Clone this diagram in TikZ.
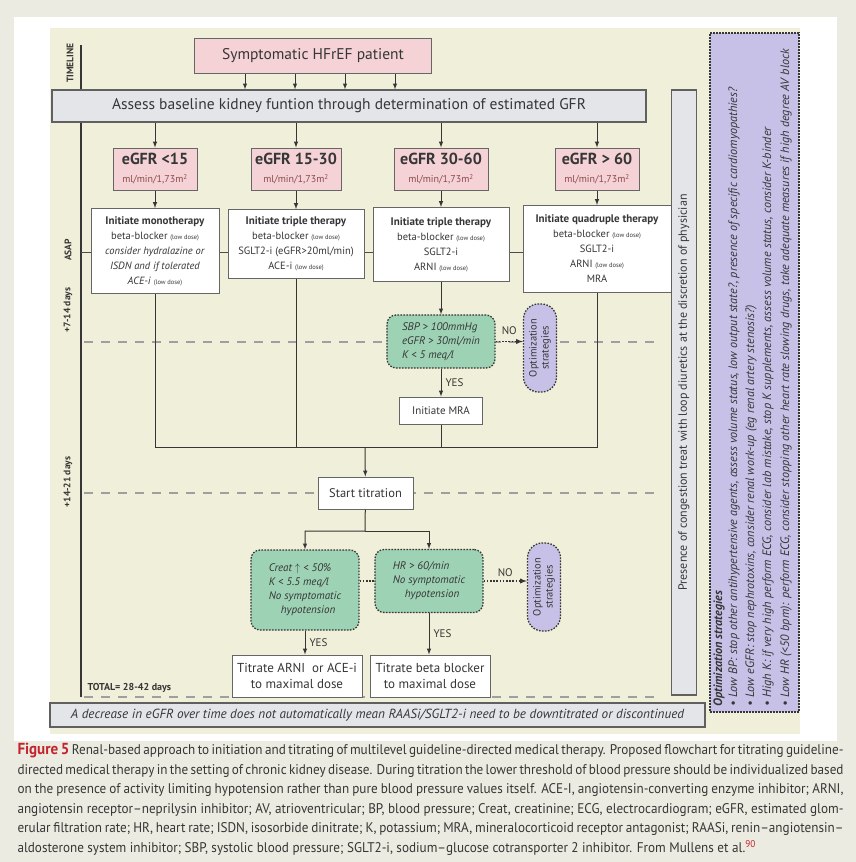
\documentclass[tikz,border=0pt]{standalone}
\usepackage{fontspec}
\setmainfont{PT Sans}
\newfontfamily\capfont[FakeStretch=0.94]{PT Sans}
\usetikzlibrary{arrows,positioning,calc,shapes}
\definecolor{pagebg}{HTML}{ECEBE1}
\definecolor{panel}{HTML}{F0EFD9}
\definecolor{pinkbg}{HTML}{F4D2D5}
\definecolor{greybg}{HTML}{E4E5E9}
\definecolor{greenbg}{HTML}{9ED2B5}
\definecolor{lilac}{HTML}{C8C1E7}
\definecolor{ink}{HTML}{363636}
\definecolor{unitred}{HTML}{8C4B4E}
\definecolor{figred}{HTML}{C3232C}
\newcommand{\lowdose}{{\fontsize{6.5}{7}\selectfont(low dose)}}
\newcommand{\unitline}{{\mdseries\fontsize{10}{11}\selectfont\color{unitred}ml/min/1,73m\textsuperscript{2}}}

\begin{document}
\begin{tikzpicture}[x=1pt, y=-1pt, >=latex, line width=1pt, color=ink,
  every node/.style={align=center, inner sep=1pt},
  pinkbox/.style={draw=gray!80!black, fill=pinkbg, minimum height=42pt, font=\bfseries\fontsize{16}{18}\selectfont},
  greybar/.style={draw=gray!75!black, fill=greybg, line width=1.3pt},
  therapy/.style={draw=gray!80!black, fill=white, anchor=north, font=\fontsize{10.5}{15}\selectfont},
  plainbox/.style={draw=gray!80!black, fill=white},
  cond/.style={draw=ink, dash pattern=on 1.6pt off 1.4pt, line width=1.3pt, fill=greenbg, rounded corners=9pt, align=left, font=\itshape\fontsize{11}{14}\selectfont},
  optpill/.style={draw=ink, dash pattern=on 1.6pt off 1.4pt, line width=1.3pt, fill=lilac, rounded corners=15pt, rotate=90, minimum width=88pt, minimum height=33pt, font=\fontsize{10.5}{12}\selectfont},
  dotlink/.style={dash pattern=on 1.6pt off 1.6pt, line width=1.3pt},
  tlline/.style={draw=gray!75, line width=1.6pt, dash pattern=on 9pt off 8pt},
  tllabel/.style={rotate=90, font=\bfseries\fontsize{9.5}{10}\selectfont},
  optline/.style={rotate=90, anchor=west, inner sep=0pt, font=\itshape\fontsize{12.2}{13}\selectfont},
  answer/.style={font=\fontsize{11}{12}\selectfont}]
  \useasboundingbox (0,0) rectangle (856,862);

  % Page, card and panel
  \fill[pagebg] (0,0) rectangle (856,862);
  \fill[white] (14,17) rectangle (837,741);
  \fill[panel] (50,28) rectangle (800,734);

  % Timeline
  \coordinate (tl0) at (81,45);
  \coordinate (tl1) at (81,697);
  \draw[line width=1.8pt] (tl0) -- (tl1);
  \draw[gray!60!black] (81,252) -- (665,252);
  \foreach \y in {342,493,697}
    \draw[tlline] (84,\y) -- (657,\y);
  \node[tllabel] (tlname) at (70,63) {TIMELINE};
  \node[tllabel] (tlasap) at (68,250) {ASAP};
  \node[tllabel] (tlweek) at (68,310) {+7-14 days};
  \node[tllabel] (tlmonth) at (68,482) {+14-21 days};
  \node[anchor=west, font=\bfseries\fontsize{10}{10}\selectfont] (total) at (86,688) {TOTAL= 28-42 days};

  % Start and kidney function
  \node[pinkbox, minimum width=237pt, minimum height=35pt, font=\fontsize{15.5}{17}\selectfont] (patient) at (313,56) {Symptomatic HFrEF patient};
  \node[greybar, minimum width=594pt, minimum height=32pt, font=\fontsize{15.5}{17}\selectfont] (assess) at (349,106) {Assess baseline kidney funtion through determination of estimated GFR};
  \foreach \i/\x in {1/245,2/295,3/345,4/395}
    \coordinate (drop\i) at (\x,80);
  \foreach \i in {1,...,4}
    \draw[->] (patient.south -| drop\i) -- (assess.north -| drop\i);

  % eGFR classes
  \node[pinkbox, minimum width=84pt] (egfrA) at (155,169) {eGFR <15\\\unitline};
  \node[pinkbox, minimum width=90pt] (egfrB) at (296,169) {eGFR 15-30\\\unitline};
  \node[pinkbox, minimum width=94pt] (egfrC) at (441,169) {eGFR 30-60\\\unitline};
  \node[pinkbox, minimum width=84pt] (egfrD) at (597,169) {eGFR > 60\\\unitline};

  % Initial therapy
  \node[therapy, minimum width=128pt, minimum height=85pt] (mono) at (155,208)
    {\textbf{\fontsize{11}{13}\selectfont Initiate monotherapy}\\beta-blocker \lowdose\\\textit{consider hydralazine or}\\\textit{ISDN and if tolerated}\\\textit{ACE-i} \lowdose};
  \node[therapy, minimum width=136pt, minimum height=69pt] (triA) at (296,209)
    {\textbf{\fontsize{11}{13}\selectfont Initiate triple therapy}\\beta-blocker \lowdose\\SGLT2-i (eGFR>20ml/min)\\ACE-i \lowdose};
  \node[therapy, minimum width=136pt, minimum height=74pt] (triB) at (441,207)
    {\textbf{\fontsize{11}{13}\selectfont Initiate triple therapy}\\beta-blocker \lowdose\\SGLT2-i\\ARNI \lowdose};
  \node[therapy, minimum width=148pt, minimum height=87pt] (quad) at (597,205)
    {\textbf{\fontsize{11}{13}\selectfont Initiate quadruple therapy}\\beta-blocker \lowdose\\SGLT2-i\\ARNI \lowdose\\MRA};

  \path[->]
    (assess.south -| egfrA) edge (egfrA)
    (assess.south -| egfrB) edge (egfrB)
    (assess.south -| egfrC) edge (egfrC)
    (assess.south -| egfrD) edge (egfrD)
    (egfrA) edge (mono)
    (egfrB) edge (triA)
    (egfrC) edge (triB)
    (egfrD) edge (quad);

  % MRA check
  \node[cond, minimum width=108pt, minimum height=53pt] (condA) at (441,341.5)
    {SBP > 100mmHg\\eGFR > 30ml/min\\K < 5 meq/l};
  \node[optpill] (optA) at (540,348) {Optimization\\strategies};
  \node[plainbox, minimum width=83pt, minimum height=27pt, font=\fontsize{11}{13}\selectfont] (mra) at (441,410.5) {Initiate MRA};
  \path[->]
    (triB) edge (condA)
    (condA) edge node[answer, right, xshift=3pt] {YES} (mra);
  \draw[->, dotlink] (condA.east) -- (condA.east -| optA.north) node[answer, midway, above=5pt] {NO};

  % Joining the four branches
  \coordinate (join) at (365,447);
  \draw (mono) |- (join);
  \draw (quad) |- (join);
  \draw (triA) -- (triA |- join);
  \draw (mra) -- (mra |- join);

  % Titration
  \node[plainbox, minimum width=95pt, minimum height=32pt, font=\fontsize{12.5}{14}\selectfont] (start) at (365.5,493) {Start titration};
  \draw[->] (join) -- (start);
  \coordinate (split) at (365,531);
  \node[cond, minimum width=108pt, minimum height=80pt] (condB) at (305,590)
    {Creat $\uparrow$ < 50\%\\K < 5.5 meq/l\\No symptomatic\\\hspace*{12pt}hypotension};
  \node[cond, minimum width=108pt, minimum height=63pt] (condC) at (429,581)
    {HR > 60/min\\No symptomatic\\\hspace*{12pt}hypotension};
  \node[optpill] (optB) at (544,587) {Optimization\\strategies};
  \draw[->] (start) -- (split) -| (condB);
  \draw[->] (split) -| (condC);
  \draw[dotlink] (condB.east |- condC) -- (condC.west);
  \draw[->, dotlink] (condC.east) -- (condC.east -| optB.north) node[answer, midway, above=3pt] {NO};

  \node[plainbox, minimum width=130pt, minimum height=42pt, font=\fontsize{13}{16}\selectfont] (titA) at (297,676) {Titrate ARNI\ \ or ACE-i\\to maximal dose};
  \node[plainbox, minimum width=120pt, minimum height=42pt, font=\fontsize{13}{16}\selectfont] (titB) at (430,676) {Titrate beta blocker\\to maximal dose};
  \draw[->] (condB) -- (condB |- titA.north) node[answer, midway, right, xshift=3pt] {YES};
  \draw[->] (condC) -- (condC |- titB.north) node[answer, midway, right, xshift=3pt] {YES};

  % Side and bottom notes
  \node[greybar, minimum width=655pt, minimum height=24pt, font=\itshape\fontsize{13.2}{15}\selectfont] (note) at (377.5,715)
    {A decrease in eGFR over time does not automatically mean RAASi/SGLT2-i need to be downtitrated or discontinued};
  \node[greybar, rotate=90, minimum width=605pt, minimum height=25pt, font=\fontsize{12}{14}\selectfont] (congest) at (684,392.5)
    {Presence of congestion treat with loop diuretics at the discretion of physician};
  \node[draw=ink, dash pattern=on 1.6pt off 1.4pt, line width=1.3pt, fill=lilac, minimum width=89pt, minimum height=679pt] (optbox) at (754.5,372.5) {};
  \node[optline] (optT) at (719,707) {\textbf{Optimization strategies}};
  \node[optline] (optBP) at (734,707) {• Low BP: stop other antihypertensive agents, assess volume status, low output state?, presence of specific cardiomyopathies?};
  \node[optline] (optGFR) at (751,707) {• Low eGFR: stop nephrotoxins, consider renal work-up (eg renal artery stenosis?)};
  \node[optline] (optK) at (768,707) {• High K: if very high perform ECG, consider lab mistake, stop K supplements, assess volume status, consider K-binder};
  \node[optline] (optHR) at (786,707) {• Low HR (<50 bpm): perform ECG, consider stopping other heart rate slowing drugs, take adequate measures if high degree AV block};

  % Caption
  \node[anchor=north west, align=left, inner sep=0pt, font=\capfont\fontsize{14}{19.5}\selectfont] (caption) at (17,743) {%
    \makebox[826pt][s]{{\bfseries\color{figred}\fontsize{16}{16}\selectfont Figure 5} Renal-based approach to initiation and titrating of multilevel guideline-directed medical therapy. Proposed flowchart for titrating guideline-}\\
    \makebox[826pt][s]{directed medical therapy in the setting of chronic kidney disease. During titration the lower threshold of blood pressure should be individualized based}\\
    \makebox[826pt][s]{on the presence of activity limiting hypotension rather than pure blood pressure values itself. ACE-I, angiotensin-converting enzyme inhibitor; ARNI,}\\
    \makebox[826pt][s]{angiotensin receptor–neprilysin inhibitor; AV, atrioventricular; BP, blood pressure; Creat, creatinine; ECG, electrocardiogram; eGFR, estimated glom-}\\
    \makebox[826pt][s]{erular filtration rate; HR, heart rate; ISDN, isosorbide dinitrate; K, potassium; MRA, mineralocorticoid receptor antagonist; RAASi, renin–angiotensin–}\\
    aldosterone system inhibitor; SBP, systolic blood pressure; SGLT2-i, sodium–glucose cotransporter 2 inhibitor. From Mullens et al.\textsuperscript{\color{figred}90}};
\end{tikzpicture}
\end{document}
